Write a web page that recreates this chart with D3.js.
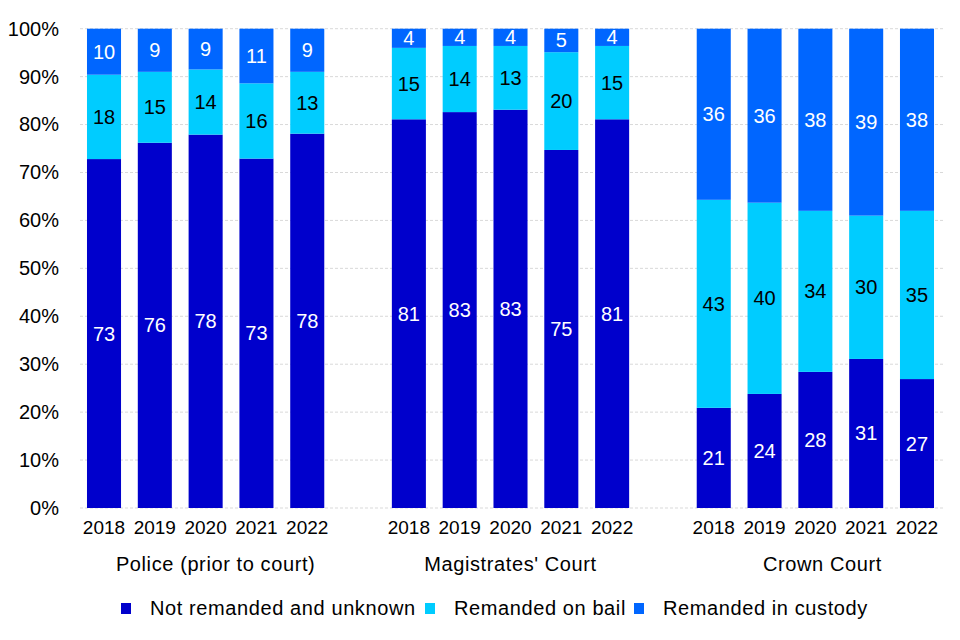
<!DOCTYPE html>
<html lang="en">
<head>
  <meta charset="UTF-8">
  <title>Remand status</title>
  <style>
    body { margin: 0; background: white; }
    text { font-family: Arial, "Liberation Sans", sans-serif; }
  </style>
</head>
<body>
  <svg id="svg" width="960" height="640"></svg>
  <script src="https://d3js.org/d3.v7.min.js"></script>
  <script>
    // data (percent of total)
    const groups = ['Police (prior to court)', "Magistrates' Court", 'Crown Court']
    const years = ['2018', '2019', '2020', '2021', '2022']
    const series = ['Not remanded and unknown', 'Remanded on bail', 'Remanded in custody']
    const notRemanded = [
      [72.8, 76.2, 77.9, 72.9, 78.1],
      [81.1, 82.6, 83.1, 74.7, 81.1],
      [20.9, 23.8, 28.4, 31.1, 26.9]
    ]
    const onBail = [
      [17.6, 14.8, 13.6, 15.7, 12.9],
      [14.9, 13.8, 13.3, 20.4, 15.3],
      [43.4, 39.9, 33.6, 29.9, 35.1]
    ]
    const inCustody = [
      [9.6, 9.0, 8.5, 11.4, 9.0],
      [4.0, 3.6, 3.6, 4.9, 3.6],
      [35.7, 36.3, 38.0, 39.0, 38.0]
    ]
    const yTicks = [0, 10, 20, 30, 40, 50, 60, 70, 80, 90, 100]

    const colors = ['#0000CC', '#00CCFF', '#0066FF']
    const labelColors = ['white', 'black', 'white']

    const svg = d3.select('#svg')

    // one flat band per bar, with an empty slot between the groups
    const slots = []
    groups.forEach((g, gi) => {
      if (gi > 0) slots.push('gap' + gi)
      years.forEach(y => slots.push(g + '|' + y))
    })

    const xScale = d3.scaleBand()
      .domain(slots)
      .range([78.6, 942.4])
      .paddingInner(0.33)
      .paddingOuter(0.165)
    const yScale = d3.scaleLinear()
      .domain([0, 100])
      .range([508, 28.7])

    // gridlines
    svg.append('g')
      .selectAll('line')
      .data(yTicks)
      .enter()
      .append('line')
      .attr('x1', 80)
      .attr('x2', 943)
      .attr('y1', d => yScale(d))
      .attr('y2', d => yScale(d))
      .attr('stroke', '#D9D9D9')
      .attr('stroke-width', 1)
      .attr('stroke-dasharray', '3,2')

    // y axis labels
    const leftAxis = d3.axisLeft(yScale)
      .tickValues(yTicks)
      .tickFormat(d => d + '%')
      .tickSize(0)
      .tickPadding(0)
    const yAxis = svg.append('g')
      .attr('transform', 'translate(59, 0)')
      .call(leftAxis)
    yAxis.select('.domain').remove()
    yAxis.selectAll('text')
      .style('font-size', '20px')
      .style('font-family', 'Arial, "Liberation Sans", sans-serif')
      .attr('fill', 'black')

    // flatten rows for stacking
    const rows = []
    groups.forEach((g, gi) => {
      years.forEach((y, yi) => {
        rows.push({
          key: g + '|' + y,
          year: y,
          s0: notRemanded[gi][yi],
          s1: onBail[gi][yi],
          s2: inCustody[gi][yi]
        })
      })
    })
    const stacked = d3.stack().keys(['s0', 's1', 's2'])(rows)

    const layers = svg.append('g')
      .selectAll('g')
      .data(stacked)
      .enter()
      .append('g')
      .attr('fill', (d, i) => colors[i])

    layers.selectAll('rect')
      .data(d => d)
      .enter()
      .append('rect')
      .attr('x', d => xScale(d.data.key))
      .attr('width', xScale.bandwidth())
      .attr('y', d => yScale(d[1]))
      .attr('height', d => yScale(d[0]) - yScale(d[1]))

    // value labels
    stacked.forEach((layer, li) => {
      svg.append('g')
        .selectAll('text')
        .data(layer)
        .enter()
        .append('text')
        .attr('x', d => xScale(d.data.key) + xScale.bandwidth() / 2)
        .attr('y', d => (yScale(d[0]) + yScale(d[1])) / 2)
        .attr('dy', '0.35em')
        .attr('text-anchor', 'middle')
        .attr('fill', labelColors[li])
        .style('font-size', '20px')
        .text(d => Math.round(d[1] - d[0]))
    })

    // year labels
    svg.append('g')
      .selectAll('text')
      .data(rows)
      .enter()
      .append('text')
      .attr('x', d => xScale(d.key) + xScale.bandwidth() / 2)
      .attr('y', 527)
      .attr('dy', '0.35em')
      .attr('text-anchor', 'middle')
      .style('font-size', '19px')
      .text(d => d.year)

    // group labels
    svg.append('g')
      .selectAll('text')
      .data(groups)
      .enter()
      .append('text')
      .attr('x', (d, i) => xScale(d + '|' + years[2]) + xScale.bandwidth() / 2 + [10, 0, 7][i])
      .attr('y', 564)
      .attr('dy', '0.35em')
      .attr('text-anchor', 'middle')
      .style('font-size', '20px')
      .style('letter-spacing', '0.6px')
      .text(d => d)

    // legend
    const legendX = [121, 425, 634]
    const legend = svg.append('g')
      .selectAll('g')
      .data(series)
      .enter()
      .append('g')
      .attr('transform', (d, i) => `translate(${legendX[i]}, 608)`)
    legend.append('rect')
      .attr('x', 0)
      .attr('y', -5)
      .attr('width', 10)
      .attr('height', 11)
      .attr('fill', (d, i) => colors[i])
    legend.append('text')
      .attr('x', 29)
      .attr('dy', '0.35em')
      .style('font-size', '20px')
      .style('letter-spacing', '0.6px')
      .text(d => d)
  </script>
</body>
</html>
